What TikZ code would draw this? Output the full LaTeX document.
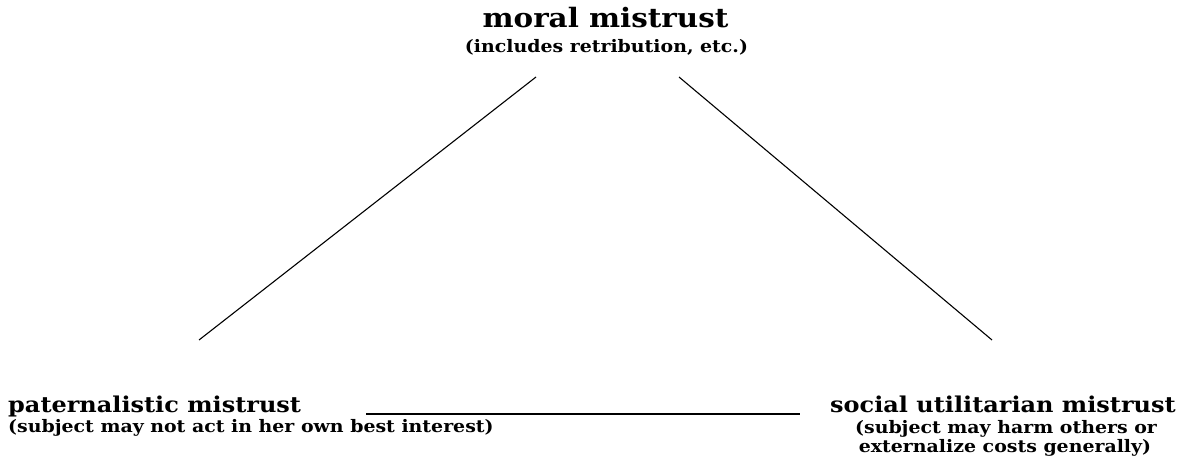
\documentclass[tikz,border=0pt]{standalone}
\usepackage{fontspec}
\setmainfont{DejaVu Serif}[FakeStretch=1.1]
\begin{document}
\begin{tikzpicture}[x=1pt,y=-1pt,
  bighead/.style={font=\bfseries\fontsize{26.7}{30}\selectfont, inner sep=0pt},
  head/.style={font=\bfseries\fontsize{21.8}{25}\selectfont, inner sep=0pt},
  sub/.style={font=\bfseries\fontsize{17.2}{20}\selectfont, inner sep=0pt},
  link/.style={line width=1.1pt}]
\useasboundingbox (0,0) rectangle (1182,465);
\node[bighead, anchor=base] (moral) at (605.5,28) {moral mistrust};
\node[sub, anchor=base] (moralsub) at (606.5,53) {(includes retribution, etc.)};
\node[head, anchor=base west] (pat) at (8,412) {paternalistic mistrust};
\node[sub, anchor=base west] (patsub) at (8,432) {(subject may not act in her own best interest)};
\node[head, anchor=base west] (soc) at (830,412) {social utilitarian mistrust};
\node[sub, anchor=base] (socsubA) at (1006,433) {(subject may harm others or};
\node[sub, anchor=base] (socsubB) at (1005,452) {externalize costs generally)};
\coordinate (a1) at (536,77);
\coordinate (a2) at (199,340);
\coordinate (b1) at (679,77);
\coordinate (b2) at (992,340);
\coordinate (c1) at (366,414);
\coordinate (c2) at (800,414);
\draw[link] (a1) -- (a2);
\draw[link] (b1) -- (b2);
\draw[line width=2pt] (c1) -- (c2);
\end{tikzpicture}
\end{document}
